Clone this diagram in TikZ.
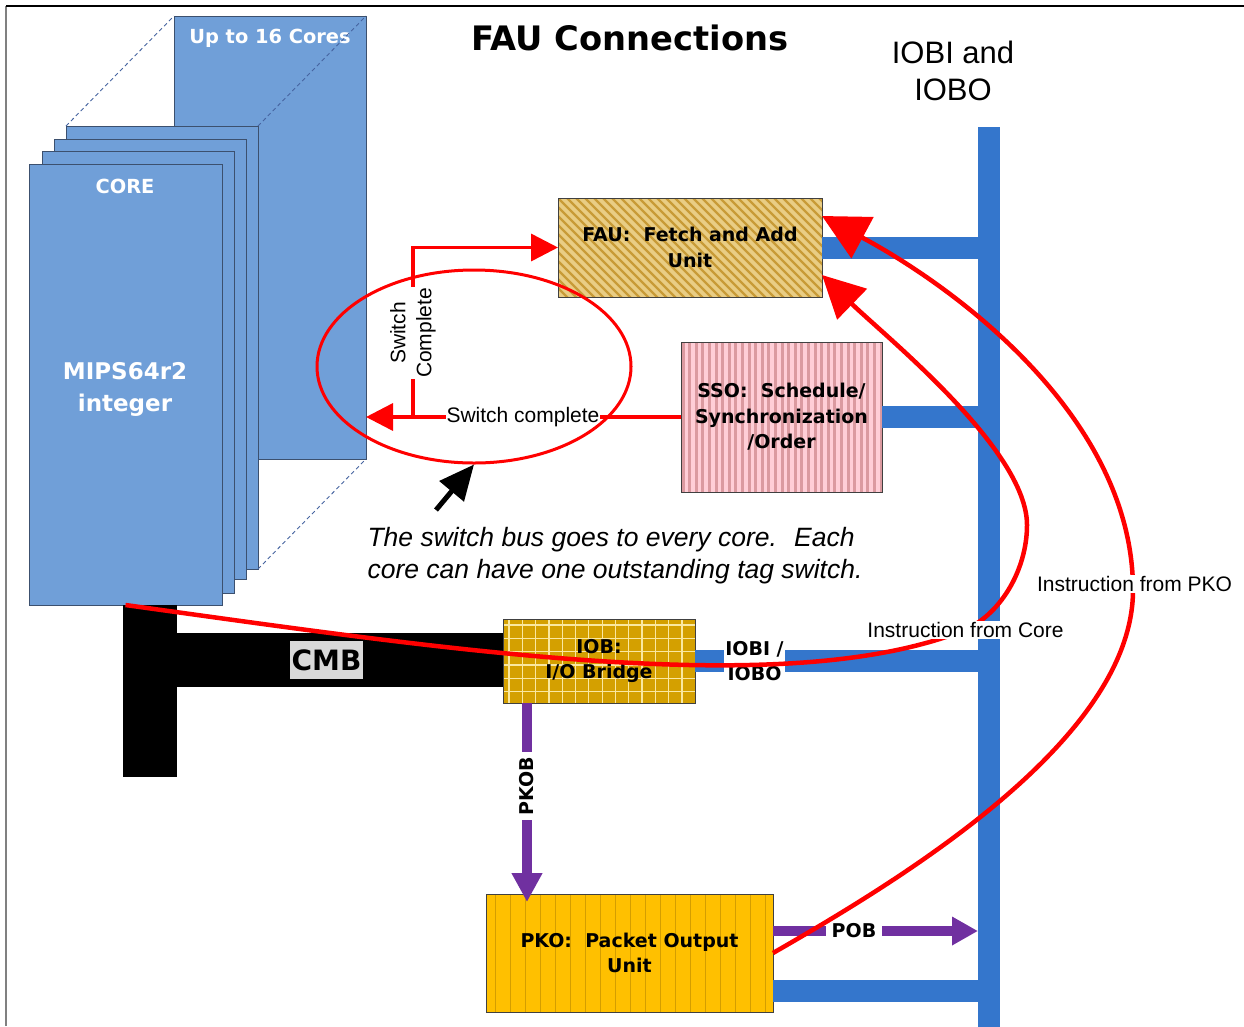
\documentclass[tikz,border=0pt]{standalone}
\usepackage{fontspec}
\setmainfont{Liberation Sans}
\newfontfamily\lucida{DejaVu Sans}
\usetikzlibrary{arrows.meta,calc,shapes.geometric}
\definecolor{corefill}{RGB}{112,159,216}
\definecolor{coreline}{RGB}{60,80,110}
\definecolor{busblue}{RGB}{52,118,204}
\definecolor{fauback}{RGB}{233,205,132}
\definecolor{faustripe}{RGB}{200,155,55}
\definecolor{ssoback}{RGB}{255,206,215}
\definecolor{ssostripe}{RGB}{219,154,160}
\definecolor{pkofill}{RGB}{255,192,0}
\definecolor{pkoline}{RGB}{212,158,0}
\definecolor{iobfill}{RGB}{212,160,0}
\definecolor{iobgrid}{RGB}{250,232,160}
\definecolor{purp}{RGB}{112,48,160}
\definecolor{cmbgray}{RGB}{217,217,217}
\definecolor{dashblue}{RGB}{70,100,160}
\begin{document}
\begin{tikzpicture}[x=1pt,y=-1pt,
  corebox/.style={draw=coreline, fill=corefill, line width=1, anchor=north west, inner sep=0, outer sep=0},
  coredash/.style={draw=dashblue, line width=0.9, dash pattern=on 4pt off 3pt},
  wtxt/.style={text=white, font=\lucida\bfseries\fontsize{19.4}{24}\selectfont},
  boxbase/.style={draw=black!75, line width=1, anchor=north west, inner sep=0, outer sep=0, align=center, font=\lucida\bfseries\fontsize{19}{25.5}\selectfont},
  boxtxt/.style={font=\lucida\bfseries\fontsize{19}{25}\selectfont, align=center},
  arialtxt/.style={font=\fontsize{21}{26}\selectfont},
  blackbar/.style={fill=black, anchor=north west, inner sep=0, outer sep=0},
  redline/.style={draw=red, line width=3.5},
  redcurve/.style={draw=red, line width=4.5},
  bigred/.style={-{Triangle[length=27pt,width=27pt]}},
  busbar/.style={draw=busblue, line width=22},
  purparrow/.style={draw=purp, line width=10},
  onwhite/.style={fill=white, inner sep=1}
]
\useasboundingbox (0,0) rectangle (1244,1026);
% frame
\draw[gray, line width=1.5] (6,1026) -- (6,6);
\draw[black, line width=1.5] (6,6) -- (1244,6);

% titles
\node[font=\lucida\bfseries\fontsize{33.7}{40}\selectfont] (title) at (630,38) {FAU Connections};
\node[align=center, font=\fontsize{31}{37}\selectfont] (iobtitle) at (953,71) {IOBI and\\IOBO};

% cores
\node[corebox, minimum width=192, minimum height=443] (back) at (174,16) {};
\node[wtxt] (upto) at (270,38) {Up to 16 Cores};
\node[corebox, minimum width=192, minimum height=443] (c4) at (66,126) {};
\node[corebox, minimum width=192, minimum height=440] (c3) at (54,139) {};
\node[corebox, minimum width=192, minimum height=442] (c2) at (42,151) {};
\node[corebox, minimum width=193, minimum height=441] (c1) at (29,164) {};
\draw[coredash] (c4.north west) -- (back.north west);
\draw[coredash] (c4.north east) -- (back.north east);
\draw[coredash] (c4.south east) -- (back.south east);
\node[wtxt] (corelbl) at (125,186) {CORE};
\node[wtxt, align=center, font=\lucida\bfseries\fontsize{23}{32}\selectfont] (mips) at (125,389) {MIPS64r2\\integer};

% CMB
\node[blackbar, minimum width=54, minimum height=172] (cmbv) at (123,605) {};
\node[blackbar, minimum width=327, minimum height=54] (cmbh) at (177,633) {};
\node[fill=cmbgray, font=\lucida\bfseries\fontsize{28}{30}\selectfont, inner xsep=2, inner ysep=0, minimum height=38] (cmb) at (326.5,660) {CMB};

% bus
\node[fill=busblue, minimum width=22, minimum height=900, anchor=north west, inner sep=0, outer sep=0] (bus) at (978,127) {};

% boxes
\node[boxbase, fill=fauback, minimum width=264, minimum height=99,
  path picture={\foreach \i in {-13,...,30} \draw[faustripe, line width=2.4] ([xshift=\i*9pt]path picture bounding box.north west) -- ++(110,110);}] (fau) at (558,198) {FAU:~ Fetch and Add\\Unit};
\node[boxbase, fill=ssoback, minimum width=201, minimum height=150,
  path picture={\foreach \i in {0,...,30} \draw[ssostripe, line width=3] ([xshift=\i*6.6pt+2pt]path picture bounding box.north west) -- ++(0,160);}] (sso) at (681,342) {SSO:~ Schedule/\\Synchronization\\/Order};
\node[boxbase, fill=pkofill, minimum width=287, minimum height=118,
  path picture={\foreach \i in {1,...,19} \draw[pkoline, line width=1] ([xshift=\i*15pt-6pt]path picture bounding box.north west) -- ++(0,130);}] (pko) at (486,894) {PKO:~ Packet Output\\Unit};
\node[boxbase, fill=iobfill, minimum width=192, minimum height=84,
  path picture={\foreach \i in {0,...,15} \draw[iobgrid, line width=1.2] ([xshift=\i*13.3pt+6pt]path picture bounding box.north west) -- ++(0,100);
                \foreach \j in {0,...,7} \draw[iobgrid, line width=1.2] ([yshift=-\j*13.3pt-6pt]path picture bounding box.north west) -- ++(210,0);}] (iob) at (503,619) {IOB:\\I/O Bridge};

% bus branches
\draw[busbar] (fau.east) -- (fau.east -| bus.west);
\draw[busbar] (sso.east) -- (sso.east -| bus.west);
\draw[busbar] (iob.east) -- (iob.east -| bus.west);
\coordinate (pkobr) at ([yshift=-37.5pt]pko.east);
\draw[busbar] (pkobr) -- (pkobr -| bus.west);
\node[onwhite, boxtxt] (iobil) at (754.5,661) {IOBI /\\IOBO};

% purple
\coordinate (pkobtop) at ([xshift=24pt]iob.south west);
\draw[purparrow, -{Triangle[length=29pt,width=29pt]}, shorten >=-8pt] (pkobtop) -- (pkobtop |- pko.north);
\node[onwhite, boxtxt, rotate=90, inner xsep=5] (pkobl) at (527,786) {PKOB};
\coordinate (pobst) at ([yshift=22pt]pko.east);
\draw[purparrow, -{Triangle[length=26pt,width=27pt]}] (pobst) -- (pobst -| bus.west);
\node[onwhite, boxtxt, inner xsep=6] (pobl) at (854,931) {POB};

% switch complete
\coordinate (j) at ([xshift=47pt]back.east |- sso.west);
\draw[redline, bigred] (sso.west) -- (back.east |- sso.west);
\draw[redline, bigred] (j) |- (fau.west);
\node[onwhite, arialtxt] (scl) at (523,417) {Switch complete};
\node[onwhite, arialtxt, rotate=90, align=center] (scv) at (413,333) {Switch\\Complete};
\node[draw=red, line width=3, ellipse, minimum width=314, minimum height=193, inner sep=0] (sw) at (474,366.5) {};

% black arrow
\coordinate (bst) at (436,510);
\draw[line width=5, -{Triangle[length=35pt,width=31pt]}] (bst) -- (sw.south);

% note
\node[anchor=west, align=left, font=\itshape\fontsize{26.5}{32}\selectfont] (note) at (364,556) {The switch bus goes to every core.~ Each\\core can have one outstanding tag switch.};

% instruction curves
\coordinate (tipA) at ([yshift=-27.5pt]fau.east);
\coordinate (tipB) at ([yshift=31.5pt]fau.east);
\draw[redcurve, -{Triangle[length=42pt,width=42pt]}] (c1.south) .. controls (450,650) and (780,700) .. (960,632) .. controls (1000,617) and (1027,570) .. (1027,525) .. controls (1027,450) and (886,337) .. (tipA);
\draw[redcurve, -{Triangle[length=46pt,width=46pt]}] (pko.east) .. controls (900,880) and (1133,740) .. (1133,590) .. controls (1133,420) and (960,290) .. (tipB);
\node[onwhite, arialtxt, inner sep=1.5] (ifc) at (965.5,630) {Instruction from Core};
\node[onwhite, arialtxt, inner sep=1.5] (ifp) at (1134.5,584) {Instruction from PKO};
\end{tikzpicture}
\end{document}
